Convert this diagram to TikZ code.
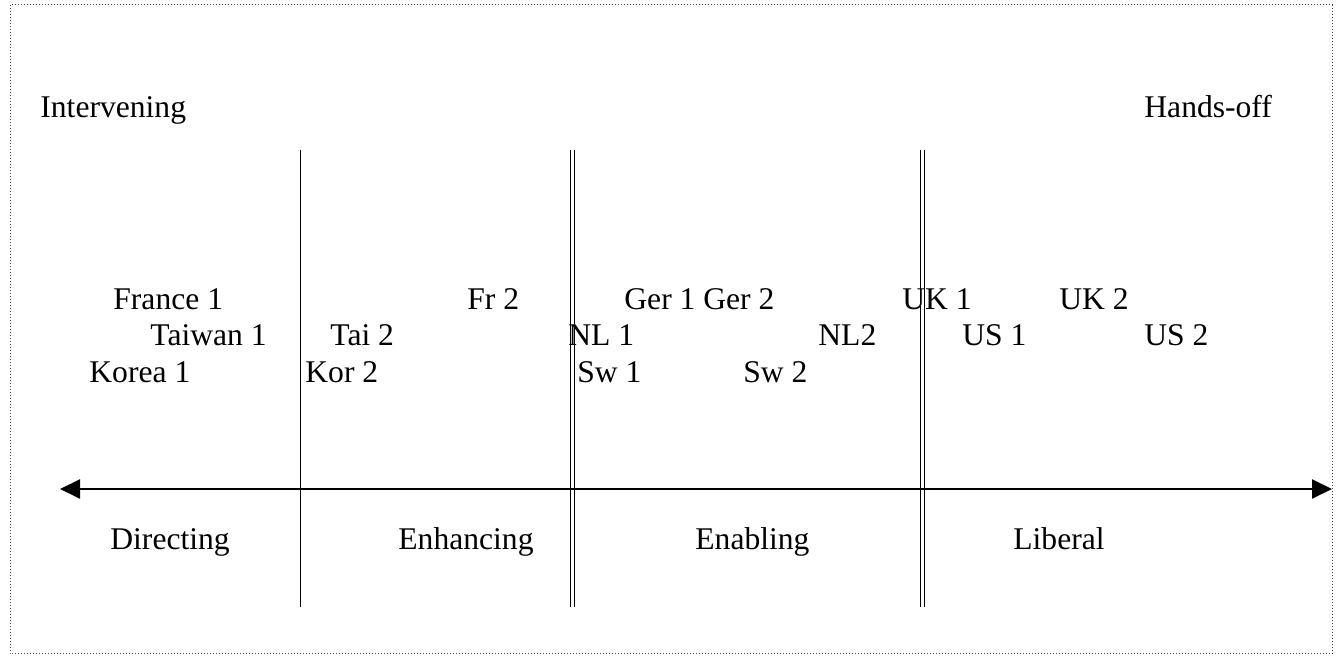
\documentclass[tikz,border=0pt]{standalone}
\usepackage{fontspec}
\setmainfont{Liberation Serif}
\usetikzlibrary{arrows.meta}

\tikzset{
  lbl/.style={anchor=base west,inner sep=0pt,font=\fontsize{15.8}{18}\selectfont},
  sep/.style={line width=0.5pt},
  dsep/.style={double,line width=0.5pt,double distance=1.2pt}
}

\begin{document}
\begin{tikzpicture}[x=0.5pt,y=-0.5pt,>={Triangle[length=10pt,width=9.5pt]}]
  \useasboundingbox (0,0) rectangle (1340,656);

  \coordinate (f0) at (10,5);
  \coordinate (f1) at (1332,654);

  \coordinate (a0) at (60,489);
  \coordinate (a1) at (1332,489);

  \coordinate (s0) at (300,150);
  \coordinate (s1) at (300,607);
  \coordinate (d0) at (572.5,150);
  \coordinate (d1) at (572.5,607);
  \coordinate (e0) at (922.5,150);
  \coordinate (e1) at (922.5,607);

  \draw[densely dotted,black!70,line width=0.5pt] (f0) rectangle (f1);

  \draw[sep] (s0) -- (s1);
  \draw[dsep] (d0) -- (d1);
  \draw[dsep] (e0) -- (e1);

  \draw[<->,line width=1pt] (a0) -- (a1);

  % ends of the scale
  \node[lbl] (interv) at (40,118) {Intervening};
  \node[lbl] (handsoff) at (1144,118) {Hands-off};

  % countries
  \node[lbl] (fra1) at (113,310) {France 1};
  \node[lbl] (fra2) at (467,310) {Fr 2};
  \node[lbl] (ger) at (624,310) {Ger 1 Ger 2};
  \node[lbl] (uk1) at (902,310) {UK 1};
  \node[lbl] (uk2) at (1059,310) {UK 2};

  \node[lbl] (tai1) at (150,346) {Taiwan 1};
  \node[lbl] (tai2) at (330,346) {Tai 2};
  \node[lbl] (nl1) at (568,346) {NL 1};
  \node[lbl] (nl2) at (818,346) {NL2};
  \node[lbl] (us1) at (962,346) {US 1};
  \node[lbl] (us2) at (1144,346) {US 2};

  \node[lbl] (kor1) at (89,383) {Korea 1};
  \node[lbl] (kor2) at (305,383) {Kor 2};
  \node[lbl] (sw1) at (577,383) {Sw 1};
  \node[lbl] (sw2) at (743,383) {Sw 2};

  % regimes
  \node[lbl] (direct) at (110,550) {Directing};
  \node[lbl] (enhance) at (398,550) {Enhancing};
  \node[lbl] (enable) at (695,550) {Enabling};
  \node[lbl] (liberal) at (1013,550) {Liberal};
\end{tikzpicture}
\end{document}
